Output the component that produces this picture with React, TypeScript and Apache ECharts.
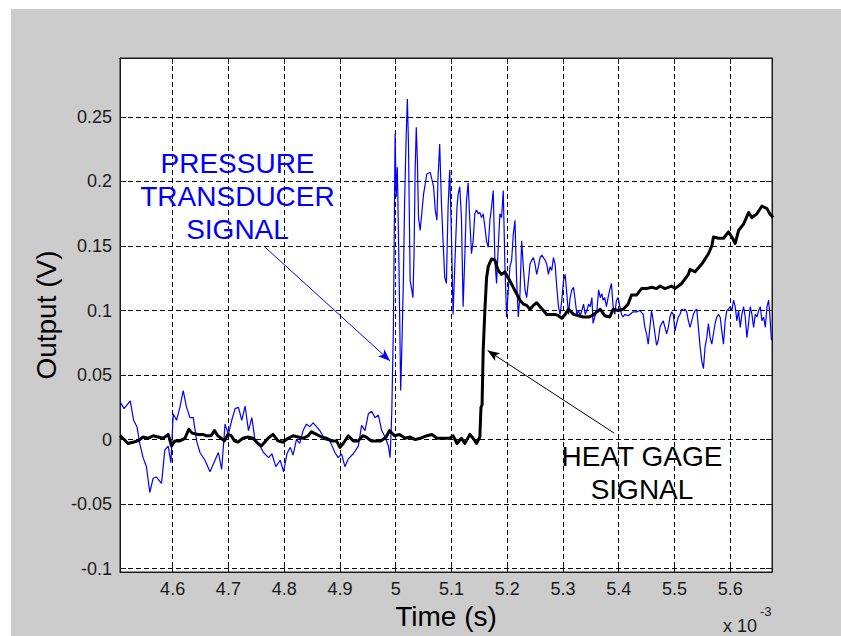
import React, { useEffect, useRef } from "react";
import * as echarts from "echarts";

// Time axis values are in units of 1e-3 s (the axis shows "x 10^-3")
const pressureTime = [
  4.506, 4.513, 4.524, 4.530, 4.536, 4.541, 4.547, 4.553, 4.559, 4.565, 4.571, 4.580, 4.586, 4.592, 4.597,
  4.601, 4.607, 4.613, 4.619, 4.625, 4.631, 4.637, 4.643, 4.649, 4.658, 4.667, 4.676, 4.682, 4.688, 4.694,
  4.700, 4.706, 4.712, 4.718, 4.724, 4.730, 4.736, 4.742, 4.748, 4.754, 4.763, 4.772, 4.778, 4.785, 4.793,
  4.799, 4.805, 4.811, 4.816, 4.822, 4.828, 4.834, 4.840, 4.846, 4.852, 4.858, 4.864, 4.873, 4.882, 4.891,
  4.897, 4.903, 4.909, 4.915, 4.924, 4.933, 4.939, 4.945, 4.951, 4.957, 4.963, 4.969, 4.975, 4.981, 4.987,
  4.990, 4.993, 4.996, 4.999, 5.001, 5.003, 5.006, 5.009, 5.011, 5.014, 5.016, 5.019, 5.021, 5.023, 5.026,
  5.029, 5.031, 5.033, 5.035, 5.037, 5.039, 5.041, 5.044, 5.050, 5.056, 5.062, 5.068, 5.071, 5.074, 5.076,
  5.079, 5.082, 5.085, 5.088, 5.091, 5.094, 5.097, 5.100, 5.103, 5.106, 5.110, 5.112, 5.115, 5.118, 5.121,
  5.124, 5.127, 5.130, 5.133, 5.136, 5.139, 5.142, 5.145, 5.148, 5.151, 5.154, 5.157, 5.160, 5.163, 5.166,
  5.169, 5.172, 5.175, 5.178, 5.181, 5.184, 5.187, 5.190, 5.193, 5.196, 5.199, 5.202, 5.205, 5.208, 5.211,
  5.214, 5.217, 5.220, 5.223, 5.226, 5.229, 5.232, 5.235, 5.238, 5.241, 5.244, 5.247, 5.250, 5.253, 5.256,
  5.259, 5.262, 5.265, 5.268, 5.271, 5.274, 5.277, 5.280, 5.283, 5.286, 5.289, 5.292, 5.295, 5.298, 5.301,
  5.304, 5.307, 5.310, 5.313, 5.316, 5.319, 5.322, 5.325, 5.328, 5.331, 5.334, 5.337, 5.340, 5.343, 5.346,
  5.349, 5.352, 5.354, 5.357, 5.361, 5.364, 5.367, 5.370, 5.372, 5.375, 5.378, 5.381, 5.384, 5.387, 5.390,
  5.393, 5.396, 5.399, 5.402, 5.405, 5.408, 5.411, 5.417, 5.420, 5.426, 5.432, 5.438, 5.444, 5.447, 5.450,
  5.453, 5.456, 5.459, 5.462, 5.465, 5.468, 5.471, 5.474, 5.477, 5.480, 5.483, 5.486, 5.489, 5.492, 5.495,
  5.498, 5.501, 5.504, 5.507, 5.510, 5.513, 5.516, 5.519, 5.522, 5.525, 5.528, 5.531, 5.534, 5.537, 5.540,
  5.543, 5.546, 5.549, 5.552, 5.555, 5.558, 5.561, 5.564, 5.567, 5.570, 5.573, 5.576, 5.579, 5.582, 5.585,
  5.588, 5.591, 5.594, 5.597, 5.600, 5.603, 5.606, 5.609, 5.612, 5.615, 5.618, 5.621, 5.624, 5.627, 5.630,
  5.633, 5.636, 5.639, 5.642, 5.645, 5.648, 5.651, 5.654, 5.657, 5.660, 5.663, 5.666, 5.669, 5.671, 5.674,
];
const pressureVolts = [
  0.029, 0.024, 0.030, 0.015, 0.010, -0.003, -0.014, -0.021, -0.041, -0.030, -0.029, -0.034, -0.008, -0.005, -0.018,
  0.020, 0.015, 0.025, 0.038, 0.025, 0.017, 0.017, -0.001, -0.010, -0.016, -0.025, -0.016, -0.010, -0.023, 0.012,
  0.004, 0.015, 0.024, 0.025, 0.015, 0.026, 0.007, 0.017, -0.001, -0.003, -0.010, -0.014, -0.011, -0.021, -0.016,
  -0.025, -0.011, -0.006, -0.012, 0.000, -0.003, 0.007, 0.012, 0.010, 0.013, 0.010, 0.007, 0.000, -0.001, -0.010,
  -0.014, -0.011, -0.021, -0.015, -0.011, -0.005, 0.011, 0.007, 0.020, 0.022, 0.017, 0.019, 0.007, 0.002, -0.005,
  -0.014, 0.020, 0.088, 0.237, 0.188, 0.211, 0.134, 0.038, 0.069, 0.126, 0.183, 0.237, 0.264, 0.229, 0.123,
  0.116, 0.110, 0.144, 0.209, 0.242, 0.216, 0.172, 0.162, 0.190, 0.206, 0.207, 0.196, 0.178, 0.170, 0.203,
  0.229, 0.185, 0.154, 0.126, 0.121, 0.180, 0.209, 0.159, 0.097, 0.134, 0.180, 0.190, 0.196, 0.172, 0.103,
  0.141, 0.185, 0.199, 0.170, 0.144, 0.154, 0.175, 0.178, 0.175, 0.176, 0.172, 0.175, 0.165, 0.154, 0.149,
  0.170, 0.180, 0.193, 0.139, 0.121, 0.149, 0.175, 0.172, 0.193, 0.134, 0.095, 0.116, 0.134, 0.139, 0.159,
  0.170, 0.123, 0.095, 0.113, 0.154, 0.134, 0.116, 0.110, 0.123, 0.136, 0.139, 0.141, 0.136, 0.128, 0.134,
  0.141, 0.143, 0.141, 0.139, 0.136, 0.128, 0.134, 0.131, 0.141, 0.136, 0.118, 0.103, 0.097, 0.108, 0.123,
  0.128, 0.113, 0.097, 0.110, 0.116, 0.118, 0.108, 0.097, 0.100, 0.096, 0.100, 0.105, 0.097, 0.100, 0.105,
  0.103, 0.110, 0.090, 0.095, 0.100, 0.116, 0.110, 0.113, 0.108, 0.110, 0.103, 0.110, 0.116, 0.121, 0.103,
  0.097, 0.108, 0.110, 0.103, 0.097, 0.095, 0.097, 0.096, 0.097, 0.099, 0.099, 0.100, 0.097, 0.087, 0.082,
  0.074, 0.087, 0.100, 0.092, 0.082, 0.073, 0.077, 0.087, 0.090, 0.092, 0.087, 0.082, 0.087, 0.095, 0.099,
  0.097, 0.084, 0.090, 0.095, 0.097, 0.101, 0.100, 0.101, 0.099, 0.092, 0.087, 0.092, 0.097, 0.100, 0.101,
  0.087, 0.072, 0.061, 0.055, 0.072, 0.079, 0.090, 0.079, 0.074, 0.082, 0.090, 0.095, 0.097, 0.095, 0.084,
  0.074, 0.092, 0.100, 0.101, 0.103, 0.100, 0.108, 0.103, 0.092, 0.100, 0.087, 0.097, 0.103, 0.095, 0.079,
  0.090, 0.103, 0.097, 0.087, 0.097, 0.095, 0.100, 0.103, 0.092, 0.095, 0.087, 0.103, 0.108, 0.097, 0.077,
];

const gageTime = [
  4.506, 4.511, 4.520, 4.529, 4.538, 4.547, 4.556, 4.565, 4.574, 4.583, 4.592, 4.598, 4.604, 4.613, 4.622,
  4.629, 4.635, 4.646, 4.654, 4.660, 4.669, 4.675, 4.681, 4.687, 4.693, 4.699, 4.705, 4.711, 4.717, 4.726,
  4.735, 4.744, 4.753, 4.759, 4.765, 4.771, 4.780, 4.789, 4.798, 4.807, 4.816, 4.825, 4.834, 4.843, 4.849,
  4.858, 4.867, 4.876, 4.885, 4.894, 4.900, 4.906, 4.915, 4.924, 4.933, 4.941, 4.947, 4.956, 4.965, 4.974,
  4.983, 4.989, 4.998, 5.007, 5.017, 5.026, 5.035, 5.044, 5.056, 5.065, 5.074, 5.085, 5.097, 5.103, 5.110,
  5.118, 5.124, 5.133, 5.139, 5.145, 5.151, 5.153, 5.155, 5.157, 5.160, 5.163, 5.166, 5.172, 5.178, 5.181,
  5.184, 5.190, 5.196, 5.202, 5.205, 5.211, 5.217, 5.223, 5.229, 5.235, 5.241, 5.247, 5.253, 5.259, 5.265,
  5.271, 5.280, 5.286, 5.292, 5.298, 5.304, 5.310, 5.319, 5.328, 5.337, 5.346, 5.352, 5.361, 5.367, 5.375,
  5.384, 5.390, 5.399, 5.408, 5.417, 5.423, 5.432, 5.441, 5.450, 5.459, 5.468, 5.474, 5.483, 5.495, 5.501,
  5.513, 5.525, 5.528, 5.537, 5.549, 5.561, 5.567, 5.570, 5.579, 5.588, 5.597, 5.603, 5.609, 5.615, 5.624,
  5.633, 5.639, 5.648, 5.657, 5.666, 5.671, 5.677,
];
const gageVolts = [
  0.003, 0.001, -0.003, -0.002, -0.001, 0.002, 0.001, 0.003, 0.002, 0.001, 0.004, -0.005, -0.001, -0.001, 0.001,
  0.008, 0.005, 0.004, 0.004, 0.003, 0.003, 0.007, 0.003, 0.001, -0.001, 0.004, 0.003, -0.001, -0.002, 0.001,
  0.002, 0.001, -0.003, -0.005, -0.002, 0.001, 0.004, -0.001, -0.002, 0.001, 0.003, 0.002, 0.001, 0.003, 0.006,
  0.004, 0.002, 0.001, -0.001, -0.001, -0.006, -0.003, 0.003, -0.001, -0.001, 0.003, 0.002, -0.001, -0.001, -0.001,
  0.002, 0.007, 0.003, 0.004, 0.001, 0.002, 0.000, 0.001, 0.003, 0.004, 0.001, 0.001, 0.001, 0.003, -0.003,
  0.001, -0.003, 0.004, 0.001, -0.003, 0.002, 0.025, 0.027, 0.069, 0.100, 0.125, 0.134, 0.140, 0.139, 0.135,
  0.131, 0.128, 0.130, 0.125, 0.123, 0.118, 0.113, 0.108, 0.105, 0.104, 0.101, 0.104, 0.106, 0.103, 0.100,
  0.097, 0.097, 0.097, 0.096, 0.094, 0.097, 0.101, 0.097, 0.096, 0.095, 0.095, 0.096, 0.099, 0.101, 0.096,
  0.095, 0.101, 0.100, 0.101, 0.105, 0.112, 0.112, 0.117, 0.117, 0.118, 0.117, 0.119, 0.117, 0.119, 0.117,
  0.121, 0.128, 0.132, 0.130, 0.136, 0.144, 0.150, 0.157, 0.156, 0.156, 0.161, 0.157, 0.152, 0.162, 0.167,
  0.176, 0.172, 0.175, 0.181, 0.179, 0.175, 0.172,
];

const xRange = [4.5056, 5.675];
const yRange = [-0.1026, 0.2957];

const pressureArrow = [
  [4.766, 0.149],
  [4.99, 0.061],
];
const gageArrow = [
  [5.392, 0.005],
  [5.165, 0.069],
];

const pressureLabel = ["PRESSURE", "TRANSDUCER", "SIGNAL"];
const gageLabel = ["HEAT GAGE", "SIGNAL"];
const xTitle = "Time (s)";
const yTitle = "Output (V)";

const FONT = '"Liberation Sans", Arial, Helvetica, sans-serif';
const AXIS_COLOR = "#1a1a1a";

export default function App() {
  const ref = useRef<HTMLDivElement>(null);

  useEffect(() => {
    if (!ref.current) return;
    const chart = echarts.init(ref.current, null, { renderer: "svg" });

    const pressureData = pressureTime.map((t, i) => [t, pressureVolts[i]]);
    const gageData = gageTime.map((t, i) => [t, gageVolts[i]]);

    const splitLine = {
      show: true,
      lineStyle: { color: "#000", width: 1, type: [5, 3] },
    };
    const axisLine = { show: true, onZero: false, lineStyle: { color: AXIS_COLOR, width: 1 } };
    const axisTick = { show: true, inside: true, length: 6, lineStyle: { color: AXIS_COLOR } };
    const axisLabel = {
      color: "#1a1a1a",
      fontSize: 18,
      fontFamily: FONT,
      margin: 8,
      showMinLabel: false,
      showMaxLabel: false,
    };

    const option: any = {
      animation: false,
      backgroundColor: "#cccccc",
      grid: {
        left: 120,
        top: 58,
        width: 652,
        height: 514,
        show: true,
        backgroundColor: "#ffffff",
        borderColor: AXIS_COLOR,
        borderWidth: 1,
        containLabel: false,
        outerBoundsMode: "none",
      },
      xAxis: [
        {
          type: "value",
          position: "bottom",
          min: xRange[0],
          max: xRange[1],
          splitNumber: 10,
          axisLine,
          axisTick,
          axisLabel,
          splitLine,
          name: xTitle,
          nameLocation: "middle",
          nameGap: 30,
          nameTextStyle: { fontSize: 28, color: "#000", fontFamily: FONT },
        },
        {
          type: "value",
          position: "top",
          min: xRange[0],
          max: xRange[1],
          splitNumber: 10,
          axisLine,
          axisTick,
          axisLabel: { show: false },
          splitLine: { show: false },
        },
      ],
      yAxis: [
        {
          type: "value",
          position: "left",
          min: yRange[0],
          max: yRange[1],
          splitNumber: 8,
          axisLine,
          axisTick,
          axisLabel,
          splitLine,
          name: yTitle,
          nameLocation: "middle",
          nameGap: 60,
          nameTextStyle: { fontSize: 28, color: "#000", fontFamily: FONT },
        },
        {
          type: "value",
          position: "right",
          min: yRange[0],
          max: yRange[1],
          splitNumber: 8,
          axisLine,
          axisTick,
          axisLabel: { show: false },
          splitLine: { show: false },
        },
      ],
      series: [
        {
          name: "Pressure transducer",
          type: "line",
          xAxisIndex: 0,
          yAxisIndex: 0,
          data: pressureData,
          showSymbol: false,
          symbol: "none",
          clip: true,
          lineStyle: { color: "#0000ff", width: 1.2 },
          itemStyle: { color: "#0000ff" },
          z: 3,
          markLine: {
            silent: true,
            symbol: ["none", "arrow"],
            symbolSize: [7, 12],
            label: { show: false },
            lineStyle: { color: "#0000ff", width: 1, type: "solid" },
            data: [[{ coord: pressureArrow[0] }, { coord: pressureArrow[1] }]],
          },
        },
        {
          name: "Heat gage",
          type: "line",
          xAxisIndex: 0,
          yAxisIndex: 0,
          data: gageData,
          showSymbol: false,
          symbol: "none",
          clip: true,
          lineStyle: { color: "#000000", width: 3, join: "round" },
          itemStyle: { color: "#000000" },
          z: 4,
          markLine: {
            silent: true,
            symbol: ["none", "arrow"],
            symbolSize: [7, 12],
            label: { show: false },
            lineStyle: { color: "#000000", width: 1, type: "solid" },
            data: [[{ coord: gageArrow[0] }, { coord: gageArrow[1] }]],
          },
        },
      ],
      graphic: [
        { type: "rect", z: 100, silent: true, shape: { x: 0, y: 0, width: 841, height: 9 }, style: { fill: "#ffffff" } },
        { type: "rect", z: 100, silent: true, shape: { x: 0, y: 0, width: 11, height: 636 }, style: { fill: "#ffffff" } },
        {
          type: "text",
          z: 100,
          x: 237.5,
          y: 196,
          style: {
            text: pressureLabel.join("\n"),
            fill: "#0000ff",
            fontSize: 28,
            fontFamily: FONT,
            lineHeight: 33,
            align: "center",
            verticalAlign: "middle",
          },
        },
        {
          type: "text",
          z: 100,
          x: 642,
          y: 472.5,
          style: {
            text: gageLabel.join("\n"),
            fill: "#000000",
            fontSize: 28,
            fontFamily: FONT,
            lineHeight: 33,
            align: "center",
            verticalAlign: "middle",
          },
        },
        {
          type: "text",
          z: 100,
          x: 723,
          y: 617,
          style: { text: "x 10", fill: "#1a1a1a", fontSize: 18, fontFamily: FONT, align: "left", verticalAlign: "top" },
        },
        {
          type: "text",
          z: 100,
          x: 760,
          y: 605,
          style: { text: "-3", fill: "#1a1a1a", fontSize: 13, fontFamily: FONT, align: "left", verticalAlign: "top" },
        },
      ],
    };

    chart.setOption(option);
    return () => chart.dispose();
  }, []);

  return (
    <div
      ref={ref}
      style={{ position: "absolute", left: 0, top: 0, width: "841px", height: "636px" }}
    />
  );
}
